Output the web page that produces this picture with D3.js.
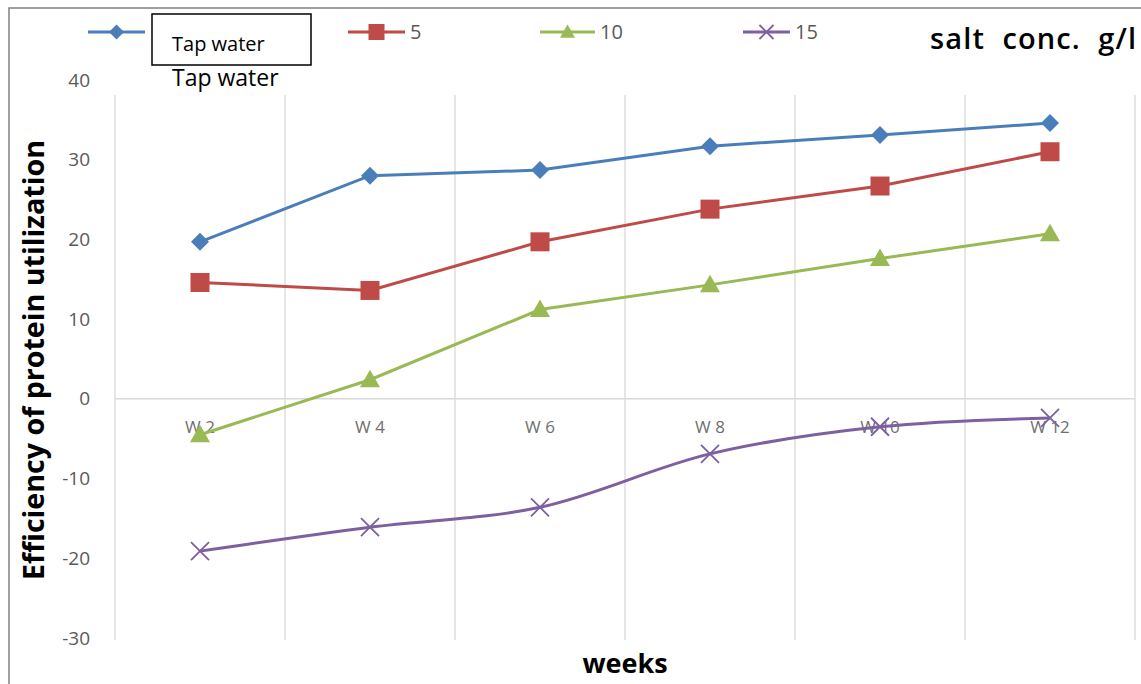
<!DOCTYPE html>
<html><head><meta charset="utf-8">
<script src="https://cdn.jsdelivr.net/npm/d3@7"></script>
<style>body{margin:0;background:#fff;}svg{display:block;}</style>
</head><body>
<svg id="c" width="1141" height="684"></svg>
<script>
const categories = ["W 2","W 4","W 6","W 8","W 10","W 12"];
const seriesNames = ["Tap water","5","10","15"];
const tapWater = [19.7, 28.0, 28.7, 31.7, 33.1, 34.6];
const salt5 = [14.6, 13.6, 19.7, 23.8, 26.7, 31.0];
const salt10 = [-4.5, 2.4, 11.2, 14.3, 17.6, 20.7];
const salt15 = [-19.1, -16.1, -13.6, -6.9, -3.5, -2.4];
const yTicks = [40, 30, 20, 10, 0, -10, -20, -30];
const colors = ["#4a7ebb", "#be4b48", "#98b954", "#7d60a0"];
const markers = ["diamond", "square", "triangle", "x"];

const svg = d3.select("#c");
const x = d3.scaleBand().domain(categories).range([115, 1135]);
const y = d3.scaleLinear().domain([-30, 40]).range([638, 80]);

// outer border
svg.append("path").attr("d","M9,684 L9,8 L1141,8").attr("fill","none").attr("stroke","#808080").attr("stroke-width",1.5);

// vertical gridlines
const grid = svg.append("g");
const bounds = [115].concat(categories.map(c => x(c) + x.bandwidth()));
grid.selectAll("line").data(bounds).enter().append("line")
  .attr("x1", d => d).attr("x2", d => d)
  .attr("y1", y(40) + 15).attr("y2", y(-30) + 2)
  .attr("stroke", "#d9d9d9").attr("stroke-width", 1.3);
// zero line
svg.append("line").attr("x1",115).attr("x2",1135).attr("y1",y(0)).attr("y2",y(0))
  .attr("stroke","#d9d9d9").attr("stroke-width",1.5);

// y tick labels
const yAxis = d3.axisLeft(y).tickValues(yTicks).tickSize(0).tickPadding(0).tickFormat(d => String(d));
const ya = svg.append("g").attr("transform","translate(90,0)").call(yAxis);
ya.select(".domain").remove();
ya.selectAll("text").attr("font-family","Open Sans, sans-serif").attr("font-size",19).attr("fill","#595959");

// x category labels
const xAxis = d3.axisBottom(x).tickSize(0).tickPadding(0);
const xa = svg.append("g").attr("transform",`translate(0,${y(0)+34})`).call(xAxis);
xa.select(".domain").remove();
xa.selectAll("text").attr("font-family","Open Sans, sans-serif").attr("font-size",17).attr("fill","#6f6f6f").attr("dy",0);

// series
const allSeries = [tapWater, salt5, salt10, salt15];
function drawMarker(g, type, cx, cy, color, s) {
  if (type === "diamond") {
    g.append("path").attr("d",`M${cx},${cy-s} L${cx+s},${cy} L${cx},${cy+s} L${cx-s},${cy} Z`).attr("fill",color);
  } else if (type === "square") {
    g.append("rect").attr("x",cx-s).attr("y",cy-s).attr("width",2*s).attr("height",2*s).attr("fill",color);
  } else if (type === "triangle") {
    g.append("path").attr("d",`M${cx},${cy-s} L${cx+s},${cy+s*0.75} L${cx-s},${cy+s*0.75} Z`).attr("fill",color);
  } else {
    g.append("path").attr("d",`M${cx-s},${cy-s} L${cx+s},${cy+s} M${cx-s},${cy+s} L${cx+s},${cy-s}`).attr("stroke",color).attr("stroke-width",1.8).attr("fill","none");
  }
}
const sizes = [9, 9.5, 10, 9];
allSeries.forEach((vals, i) => {
  const pts = vals.map((v, j) => [x(categories[j]) + x.bandwidth()/2, y(v)]);
  const line = d3.line().curve(i === 3 ? d3.curveCatmullRom.alpha(0.5) : d3.curveLinear);
  svg.append("path").attr("d", line(pts)).attr("fill","none").attr("stroke",colors[i]).attr("stroke-width",3);
  const g = svg.append("g");
  pts.forEach(p => drawMarker(g, markers[i], p[0], p[1], colors[i], sizes[i]));
});

// legend
const legendX = [88, 348, 540, 743];
const legendW = [57, 57, 55, 47];
seriesNames.forEach((n, i) => {
  const g = svg.append("g");
  const ly = 32;
  g.append("line").attr("x1",legendX[i]).attr("x2",legendX[i]+legendW[i]).attr("y1",ly).attr("y2",ly).attr("stroke",colors[i]).attr("stroke-width",3);
  drawMarker(g, markers[i], legendX[i]+legendW[i]/2, ly, colors[i], i===3?7:(i===1?8:7.5));
  if (i > 0) {
    g.append("text").attr("x",legendX[i]+legendW[i]+5).attr("y",ly+7).text(n)
      .attr("font-family","Open Sans, sans-serif").attr("font-size",20).attr("fill","#595959");
  }
});
// Tap water boxed label
svg.append("rect").attr("x",152).attr("y",14).attr("width",159).attr("height",51).attr("fill","#fff").attr("stroke","#000").attr("stroke-width",1.5);
svg.append("text").attr("x",172).attr("y",51).text(seriesNames[0])
  .attr("font-family","Open Sans, sans-serif").attr("font-size",20).attr("fill","#000");
svg.append("text").attr("x",172).attr("y",86).text(seriesNames[0])
  .attr("font-family","Open Sans, sans-serif").attr("font-size",23).attr("fill","#000");

// salt conc label
svg.append("text").attr("x",930).attr("y",49).text("salt  conc.  g/l")
  .attr("font-family","Open Sans, sans-serif").attr("font-size",29).attr("font-weight",600).attr("fill","#000")
  .attr("textLength",206).attr("lengthAdjust","spacing").style("white-space","pre");

// axis titles
svg.append("text").attr("transform","translate(44,360) rotate(-90)").attr("text-anchor","middle")
  .text("Efficiency of protein utilization")
  .attr("font-family","Open Sans, sans-serif").attr("font-size",28).attr("font-weight",700).attr("fill","#000")
  .attr("textLength",440).attr("lengthAdjust","spacingAndGlyphs");
svg.append("text").attr("x",625).attr("y",673).attr("text-anchor","middle").text("weeks")
  .attr("font-family","Open Sans, sans-serif").attr("font-size",27).attr("font-weight",700).attr("fill","#000");
</script>
</body></html>
